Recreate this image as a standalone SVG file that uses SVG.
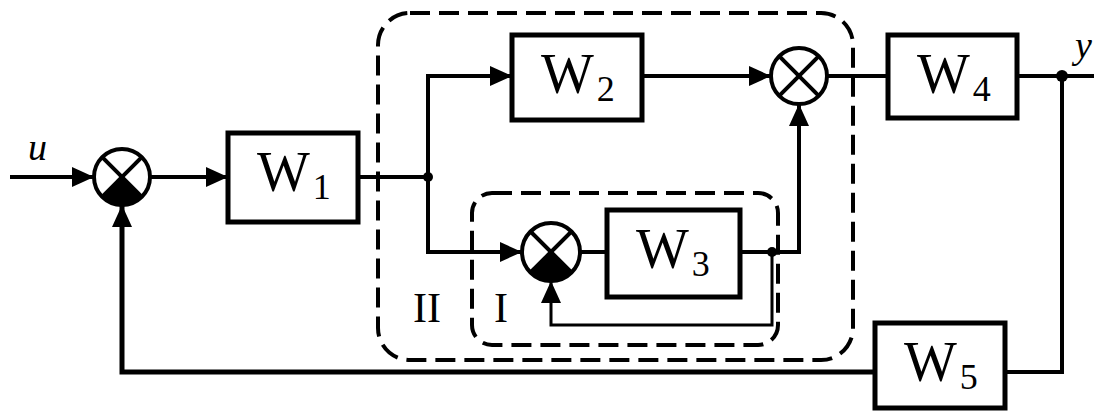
<svg xmlns="http://www.w3.org/2000/svg" width="1094" height="413" viewBox="0 0 1094 413">
<style>
.box{fill:#fff;stroke:#000;stroke-width:5}
.ln{fill:none;stroke:#000;stroke-width:4}
.thin{fill:none;stroke:#000;stroke-width:3}
.sum{fill:#fff;stroke:#000;stroke-width:4}
.x{stroke:#000;stroke-width:4}
.dash{fill:none;stroke:#000;stroke-width:4;stroke-dasharray:20 9}
.w{font-family:"Liberation Serif",serif;font-size:56px;fill:#000}
.sub{font-size:36px}
.lab{font-family:"Liberation Serif",serif;font-size:42px;fill:#000}
.it{font-family:"Liberation Serif",serif;font-style:italic;font-size:38px;fill:#000}
</style>
<defs>
<marker id="ar" markerUnits="userSpaceOnUse" markerWidth="24" markerHeight="20" refX="22" refY="10" orient="auto">
<path d="M0,0 L22,10 L0,20 Z" fill="#000"/>
</marker>
</defs>
<rect width="1094" height="413" fill="#fff"/>
<g id="regions">
<rect class="dash" x="378" y="13" width="475" height="347" rx="32"/>
<rect class="dash" x="472" y="193" width="306" height="152" rx="20"/>
<text class="lab" x="413" y="322">II</text>
<text class="lab" x="494" y="322">I</text>
</g>
<g id="connectors">
<path class="ln" d="M10,177 H94" marker-end="url(#ar)"/>
<path class="ln" d="M150,177 H228" marker-end="url(#ar)"/>
<path class="ln" d="M358,177 H428"/>
<path class="ln" d="M428,177 V76 H512" marker-end="url(#ar)"/>
<path class="ln" d="M428,177 V252 H522" marker-end="url(#ar)"/>
<path class="ln" d="M580,252 H607"/>
<path class="ln" d="M740,252 H799 V104" marker-end="url(#ar)"/>
<path class="thin" d="M772,252 V325 H551 V281" marker-end="url(#ar)"/>
<path class="ln" d="M642,76 H771" marker-end="url(#ar)"/>
<path class="ln" d="M827,76 H888"/>
<path class="ln" d="M1017,76 H1094"/>
<path class="ln" d="M1062,76 V372 H1005"/>
<path class="ln" d="M875,372 H122 V205" marker-end="url(#ar)" style="stroke-width:5"/>
<circle cx="428" cy="177" r="5"/>
<circle cx="772" cy="252" r="5"/>
<circle cx="1062" cy="76" r="6"/>
<text class="it" x="28" y="160">u</text>
<text class="it" x="1075" y="58">y</text>
</g>
<g id="sum1">
<circle class="sum" cx="122" cy="177" r="28"/>
<path d="M122,177 L141.8,196.8 A28,28 0 0 1 102.2,196.8 Z" fill="#000"/>
<line class="x" x1="102.2" y1="157.2" x2="141.8" y2="196.8"/>
<line class="x" x1="141.8" y1="157.2" x2="102.2" y2="196.8"/>
</g>
<g id="W1">
<rect class="box" x="228" y="133" width="130" height="89"/>
<text class="w" x="257" y="191">W<tspan class="sub" dx="3" dy="8">1</tspan></text>
</g>
<g id="W2">
<rect class="box" x="512" y="35" width="130" height="85"/>
<text class="w" x="541" y="93">W<tspan class="sub" dx="3" dy="8">2</tspan></text>
</g>
<g id="sum2">
<circle class="sum" cx="799" cy="76" r="28"/>
<line class="x" x1="779.2" y1="56.2" x2="818.8" y2="95.8"/>
<line class="x" x1="818.8" y1="56.2" x2="779.2" y2="95.8"/>
</g>
<g id="sum3">
<circle class="sum" cx="551" cy="252" r="29"/>
<path d="M551,252 L571.5,272.5 A29,29 0 0 1 530.5,272.5 Z" fill="#000"/>
<line class="x" x1="530.5" y1="231.5" x2="571.5" y2="272.5"/>
<line class="x" x1="571.5" y1="231.5" x2="530.5" y2="272.5"/>
</g>
<g id="W3">
<rect class="box" x="607" y="210" width="133" height="87"/>
<text class="w" x="636" y="268">W<tspan class="sub" dx="3" dy="8">3</tspan></text>
</g>
<g id="W4">
<rect class="box" x="888" y="35" width="129" height="83"/>
<text class="w" x="917" y="93">W<tspan class="sub" dx="3" dy="8">4</tspan></text>
</g>
<g id="W5">
<rect class="box" x="875" y="323" width="130" height="85"/>
<text class="w" x="904" y="381">W<tspan class="sub" dx="3" dy="8">5</tspan></text>
</g>
</svg>
